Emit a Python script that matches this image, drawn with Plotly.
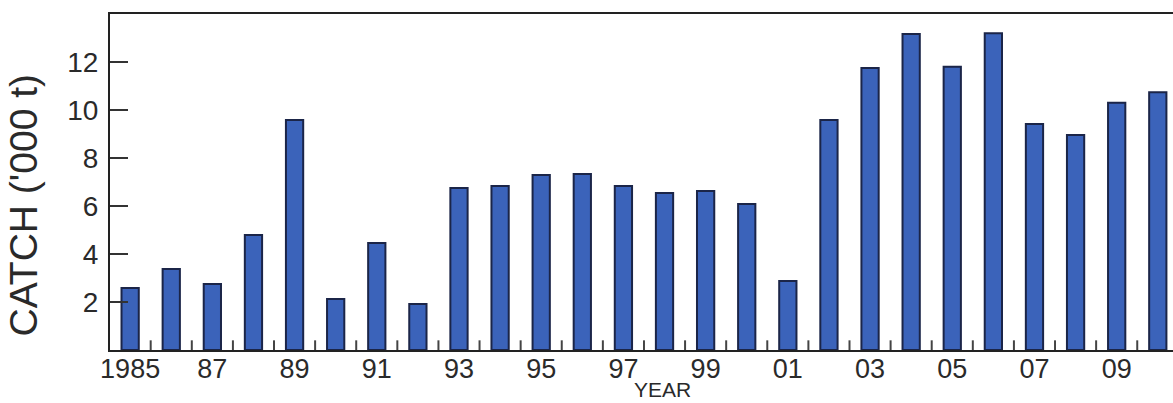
import plotly.graph_objects as go

# Annual catch, thousand tonnes
years = list(range(1985, 2011))
catch = [2.58, 3.38, 2.75, 4.79, 9.58, 2.12, 4.46, 1.92, 6.75, 6.83,
         7.29, 7.33, 6.83, 6.54, 6.63, 6.08, 2.88, 9.58, 11.75, 13.17,
         11.8, 13.2, 9.42, 8.96, 10.3, 10.74]

x_tick_vals = list(range(1985, 2011, 2))
x_tick_text = ["1985", "87", "89", "91", "93", "95", "97", "99",
               "01", "03", "05", "07", "09"]
y_tick_vals = [2, 4, 6, 8, 10, 12]

FONT = "Liberation Sans, Arial, sans-serif"
INK = "#2a2a2a"
X_RANGE = [1984.51, 2010.37]
separators = [y + 0.5 for y in years[:-1]]

fig = go.Figure(
    go.Bar(
        x=years,
        y=catch,
        width=0.42,
        marker=dict(color="#3b63ba", line=dict(color="#1b2548", width=2)),
    )
)

# short separator marks on the baseline between neighbouring years
fig.add_trace(
    go.Scatter(
        x=separators,
        y=[0.17] * len(separators),
        mode="markers",
        marker=dict(symbol="line-ns", size=8,
                    line=dict(color="#444444", width=2)),
        hoverinfo="skip",
    )
)
# invisible point that binds the label axis
fig.add_trace(go.Scatter(x=[X_RANGE[0]], y=[0], xaxis="x2", mode="markers",
                         marker=dict(opacity=0), hoverinfo="skip"))

fig.update_layout(
    width=1173,
    height=403,
    margin=dict(l=110, r=0, t=14, b=53),
    paper_bgcolor="white",
    plot_bgcolor="white",
    showlegend=False,
    font=dict(family=FONT, color=INK),
)

fig.update_xaxes(
    range=X_RANGE,
    tickmode="array",
    tickvals=separators,
    ticktext=["" for _ in separators],
    ticks="",
    showgrid=False,
    zeroline=False,
    showline=True,
    linecolor="#222222",
    linewidth=2,
    mirror=True,
)

# overlaid axis carrying the year labels
fig.update_layout(
    xaxis2=dict(
        overlaying="x",
        anchor="y",
        side="bottom",
        range=X_RANGE,
        tickmode="array",
        tickvals=x_tick_vals,
        ticktext=x_tick_text,
        ticks="",
        tickfont=dict(size=27, color=INK),
        showgrid=False,
        zeroline=False,
        showline=False,
    )
)

fig.update_yaxes(
    range=[0, 14],
    tickmode="array",
    tickvals=y_tick_vals,
    ticks="inside",
    ticklen=18,
    tickwidth=1.5,
    tickcolor="#333333",
    tickfont=dict(size=28, color=INK),
    ticklabelstandoff=4,
    showgrid=False,
    zeroline=False,
    showline=True,
    linecolor="#222222",
    linewidth=2,
)

fig.add_annotation(
    text="CATCH ('000 t)",
    xref="paper",
    yref="paper",
    x=-0.081,
    y=0.43,
    textangle=-90,
    xanchor="center",
    yanchor="middle",
    showarrow=False,
    font=dict(size=39, color=INK, family=FONT),
)

fig.add_annotation(
    text="YEAR",
    xref="paper",
    yref="paper",
    x=0.52,
    y=-0.078,
    xanchor="center",
    yanchor="top",
    showarrow=False,
    font=dict(size=21, color=INK, family=FONT),
)

fig.write_html("out.html")
